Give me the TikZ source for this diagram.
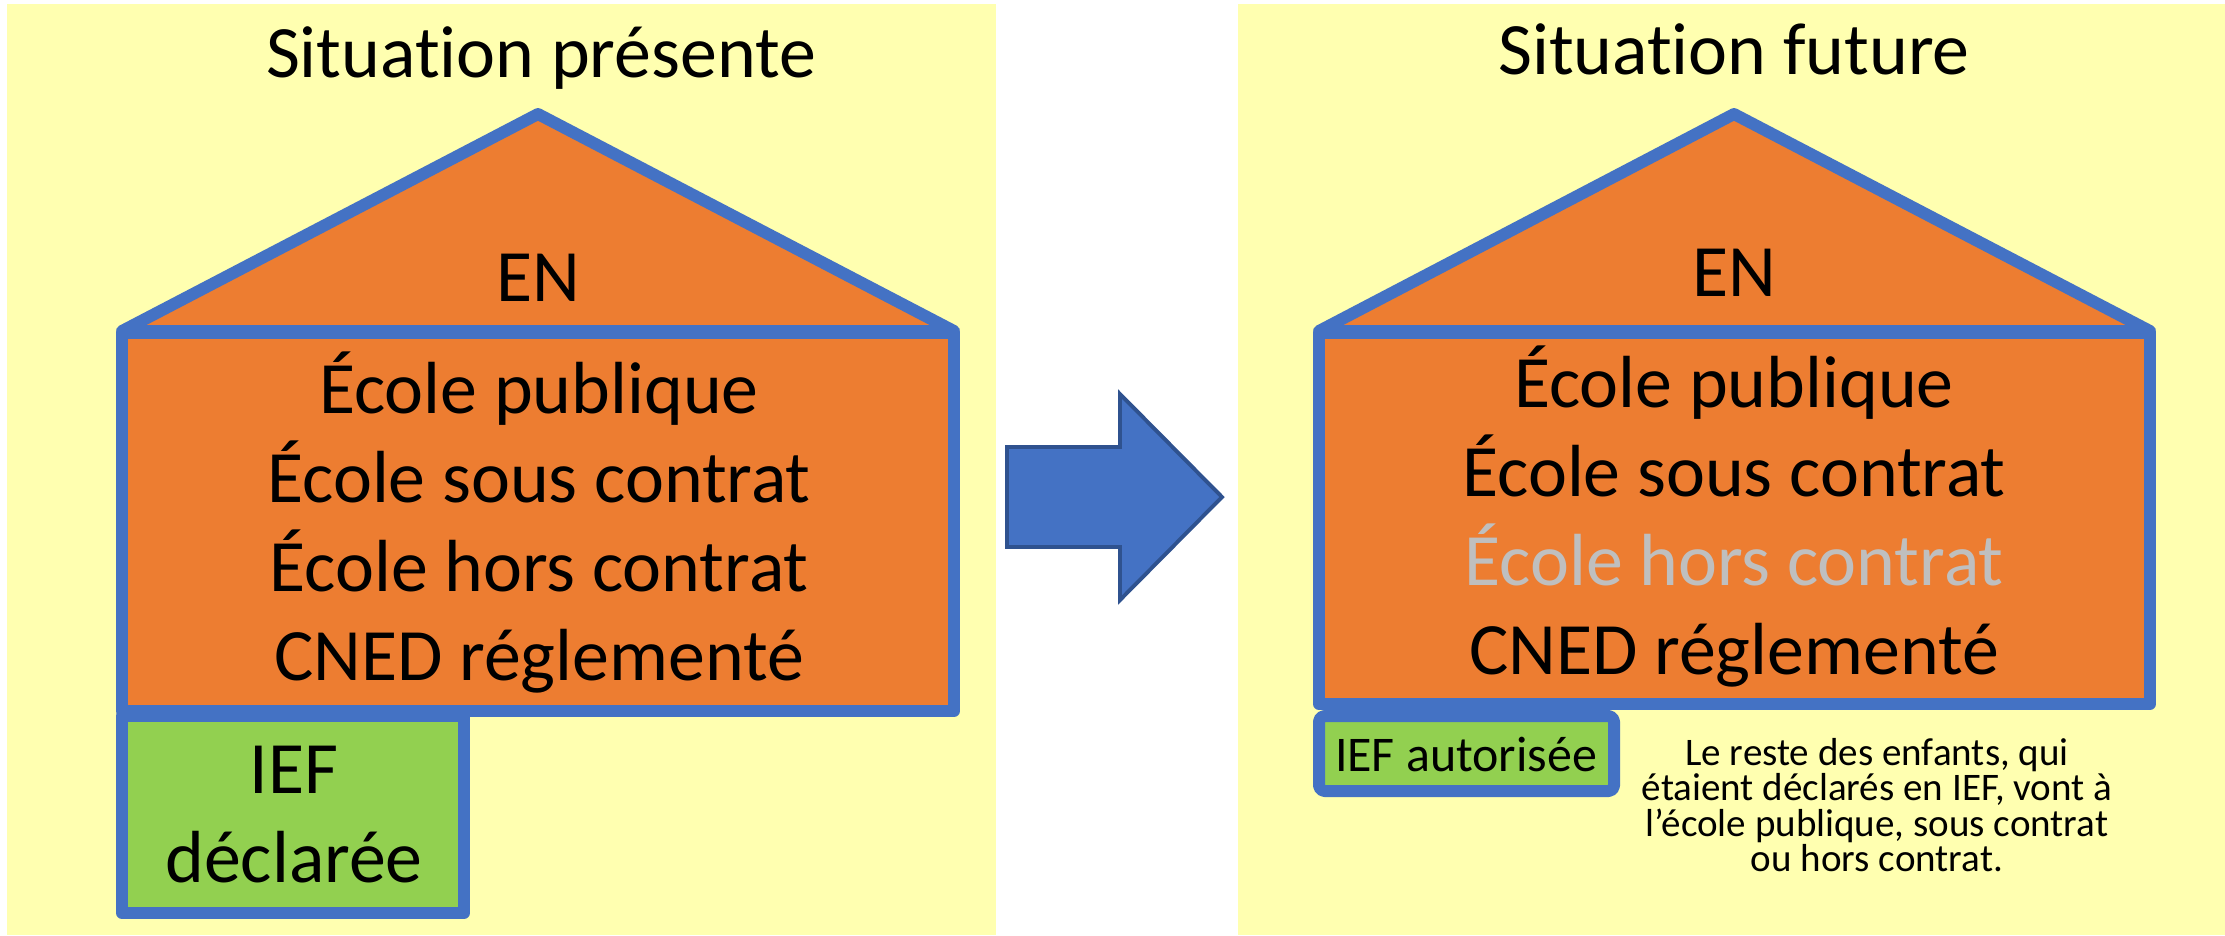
\documentclass[tikz,border=0pt]{standalone}
\usepackage{fontspec}
\setmainfont{Carlito}[Ligatures=CommonOff]

\definecolor{paleyellow}{HTML}{FFFFB0}
\definecolor{houseorange}{HTML}{ED7D31}
\definecolor{houseblue}{HTML}{4472C4}
\definecolor{iefgreen}{HTML}{92D050}
\definecolor{fadedgrey}{HTML}{BFBFBF}
\definecolor{arrowedge}{HTML}{2F528F}

\begin{document}
\begin{tikzpicture}[x=0.01cm, y=-0.01cm,
  wall/.style={draw=houseblue, line width=3.4pt, line join=round, fill=houseorange},
  iefbox/.style={draw=houseblue, line width=3.4pt, line join=round, fill=iefgreen},
  bigtext/.style={anchor=base, font=\fontsize{21}{25}\selectfont},
  smalltext/.style={anchor=base, font=\fontsize{14.2}{17}\selectfont},
  notetext/.style={anchor=base, font=\fontsize{11.1}{12}\selectfont}]
  \useasboundingbox (0,0) rectangle (2225,935);

  % backgrounds
  \fill[paleyellow] (7,4) rectangle (996,935);
  \fill[paleyellow] (1238,4) rectangle (2225,935);

  % situation presente
  \node[bigtext] (titleleft) at (541,77.5) {Situation présente};
  \draw[wall] (122,331) -- (538,114) -- (954,331) -- cycle;
  \draw[wall] (122,333) rectangle (954,711);
  \draw[iefbox] (122,716) rectangle (464,913);
  \node[bigtext] (enleft) at (538,301) {EN};
  \foreach \t [count=\i] in {École publique, École sous contrat, École hors contrat, CNED réglementé}
    \node[bigtext] (left\i) at (539,{413+89.3*(\i-1)}) {\t};
  \node[bigtext] (iefleft) at (294,793) {IEF};
  \node[bigtext] (declleft) at (294,882.5) {déclarée};

  % arrow
  \draw[fill=houseblue, draw=arrowedge, line width=1.1pt, line join=miter]
    (1007,447) -- (1120,447) -- (1120,394) -- (1222,497) -- (1120,600) -- (1120,547) -- (1007,547) -- cycle;

  % situation future
  \node[bigtext] (titleright) at (1734,74.5) {Situation future};
  \draw[wall] (1319,331) -- (1734,114) -- (2150,331) -- cycle;
  \draw[wall] (1319,333) rectangle (2150,704);
  \draw[iefbox, rounded corners=1.5pt] (1319,716) rectangle (1614,791);
  \node[bigtext] (enright) at (1734,296.4) {EN};
  \foreach \t/\c [count=\i] in {École publique/black, École sous contrat/black, École hors contrat/fadedgrey, CNED réglementé/black}
    \node[bigtext, text=\c] (right\i) at (1734,{407+89*(\i-1)}) {\t};
  \node[smalltext] (iefright) at (1466,771) {IEF autorisée};
  \foreach \t [count=\i] in {{Le reste des enfants, qui}, {étaient déclarés en IEF, vont à}, {l’école publique, sous contrat}, {ou hors contrat.}}
    \node[notetext] (note\i) at (1877,{765+35.5*(\i-1)}) {\t};
\end{tikzpicture}
\end{document}
